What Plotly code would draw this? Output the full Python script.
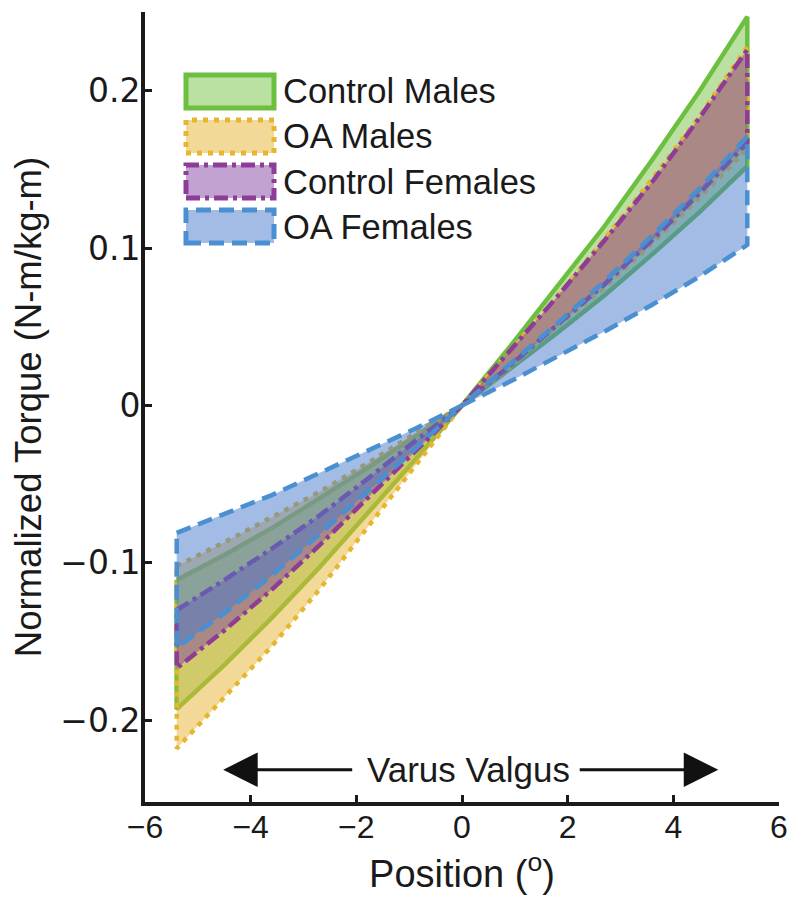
import plotly.graph_objects as go

# ---- data ----
position = [-5.4, -4.5, -3.6, -2.7, -1.8, -0.9, 0, 0.9, 1.8, 2.7, 3.6, 4.5, 5.4]

control_males_upper = [-0.111, -0.095, -0.078, -0.059, -0.040, -0.020, 0, 0.037, 0.075, 0.114, 0.156, 0.200, 0.247]
control_males_lower = [-0.193, -0.165, -0.135, -0.103, -0.069, -0.035, 0, 0.023, 0.046, 0.070, 0.096, 0.123, 0.152]
oa_males_upper = [-0.102, -0.087, -0.071, -0.055, -0.037, -0.018, 0, 0.034, 0.069, 0.106, 0.144, 0.184, 0.228]
oa_males_lower = [-0.218, -0.186, -0.153, -0.117, -0.078, -0.039, 0, 0.024, 0.050, 0.075, 0.103, 0.132, 0.163]
control_females_upper = [-0.130, -0.111, -0.091, -0.070, -0.047, -0.023, 0, 0.034, 0.069, 0.105, 0.142, 0.183, 0.226]
control_females_lower = [-0.167, -0.143, -0.117, -0.089, -0.060, -0.030, 0, 0.025, 0.051, 0.077, 0.105, 0.135, 0.167]
oa_females_upper = [-0.081, -0.069, -0.057, -0.043, -0.029, -0.015, 0, 0.026, 0.052, 0.079, 0.108, 0.138, 0.171]
oa_females_lower = [-0.154, -0.132, -0.108, -0.082, -0.055, -0.028, 0, 0.015, 0.031, 0.047, 0.064, 0.082, 0.102]

group_names = ["Control Males", "OA Males", "Control Females", "OA Females"]
x_ticks = [-6, -4, -2, 0, 2, 4, 6]
x_tick_labels = ["\u22126", "\u22124", "\u22122", "0", "2", "4", "6"]
y_ticks = [-0.2, -0.1, 0, 0.1, 0.2]
y_tick_labels = ["\u22120.2", "\u22120.1", "0", "0.1", "0.2"]

# ---- styles ----
FONT = "Liberation Sans, Arial, Helvetica, sans-serif"
YTICK_FONT = "DejaVu Sans, Verdana, sans-serif"
INK = "#1a1a1a"
styles = [
    dict(line="#6cbf3f", fill="rgba(120,195,70,0.50)", dash="solid"),
    dict(line="#e6b62e", fill="rgba(232,180,50,0.50)", dash="5px,6px"),
    dict(line="#8e3c98", fill="rgba(132,70,162,0.50)", dash="14px,5px,4px,5px"),
    dict(line="#4a8fd2", fill="rgba(70,122,204,0.50)", dash="15px,8px"),
]
bands = [
    (control_males_upper, control_males_lower),
    (oa_males_upper, oa_males_lower),
    (control_females_upper, control_females_lower),
    (oa_females_upper, oa_females_lower),
]

fig = go.Figure()
for name, (up, lo), st in zip(group_names, bands, styles):
    xs = position + position[::-1] + [position[0]]
    ys = up + lo[::-1] + [up[0]]
    fig.add_trace(go.Scatter(
        x=xs, y=ys, mode="lines", fill="toself", name=name,
        fillcolor=st["fill"],
        line=dict(color=st["line"], width=4.5, dash=st["dash"]),
        showlegend=False, hoverinfo="skip",
    ))

# ---- layout geometry (the page body adds an 8px offset) ----
OFF = 8
FIG_W, FIG_H = 800 - OFF, 916 - OFF
L, R, T, B = 145 - OFF, 779 - OFF, 12 - OFF, 802 - OFF
W, H = R - L, B - T
def px(xp):
    return (xp - OFF - L) / W
def py(yp):
    return (B - (yp - OFF)) / H

# ---- custom legend (shapes + text) ----
box_tops = [75, 120, 165, 210]
for name, st, top in zip(group_names, styles, box_tops):
    fig.add_shape(type="rect", xref="paper", yref="paper",
                  x0=px(186), x1=px(274), y0=py(top + 33), y1=py(top),
                  fillcolor=st["fill"],
                  line=dict(color=st["line"], width=5, dash=st["dash"]))
    fig.add_annotation(xref="paper", yref="paper", x=px(281), y=py(top + 16.5),
                       text=name, showarrow=False, xanchor="left", yanchor="middle",
                       font=dict(family=FONT, size=34.5, color=INK))

# ---- Varus / Valgus arrows ----
arrow_y = -0.2315
fig.add_annotation(x=-4.52, y=arrow_y, ax=-2.05, ay=arrow_y, xref="x", yref="y",
                   axref="x", ayref="y", text="", showarrow=True, arrowhead=2,
                   arrowsize=2.3, arrowwidth=3, arrowcolor="#111111")
fig.add_annotation(x=4.85, y=arrow_y, ax=2.2, ay=arrow_y, xref="x", yref="y",
                   axref="x", ayref="y", text="", showarrow=True, arrowhead=2,
                   arrowsize=2.3, arrowwidth=3, arrowcolor="#111111")
fig.add_annotation(x=0.12, y=arrow_y, xref="x", yref="y", text="Varus Valgus",
                   showarrow=False, font=dict(family=FONT, size=35, color=INK))

fig.update_layout(
    width=FIG_W, height=FIG_H,
    margin=dict(l=L, r=FIG_W - R, t=T, b=FIG_H - B, autoexpand=False),
    paper_bgcolor="white", plot_bgcolor="white",
    font=dict(family=FONT, color=INK),
    showlegend=False,
)
fig.update_xaxes(
    range=[-6, 6], tickvals=x_ticks, ticktext=x_tick_labels, automargin=False,
    showgrid=False, zeroline=False, showline=True, linewidth=4, linecolor=INK,
    ticks="inside", ticklen=7, tickwidth=3, tickcolor=INK, ticklabelstandoff=-6,
    tickfont=dict(family=FONT, size=32, color=INK),
    title=dict(text="Position (<sup>o</sup>)", font=dict(family=FONT, size=38, color=INK), standoff=17),
)
fig.update_yaxes(
    range=[-0.252, 0.25], tickvals=y_ticks, ticktext=y_tick_labels, automargin=False,
    showgrid=False, zeroline=False, showline=True, linewidth=4, linecolor=INK,
    ticks="inside", ticklen=7, tickwidth=3, tickcolor=INK, ticklabelstandoff=-6,
    tickfont=dict(family=YTICK_FONT, size=33, color=INK),
    title=dict(text="Normalized Torque (N-m/kg-m)", font=dict(family=FONT, size=36.5, color=INK), standoff=8),
)

fig.write_html("out.html")
